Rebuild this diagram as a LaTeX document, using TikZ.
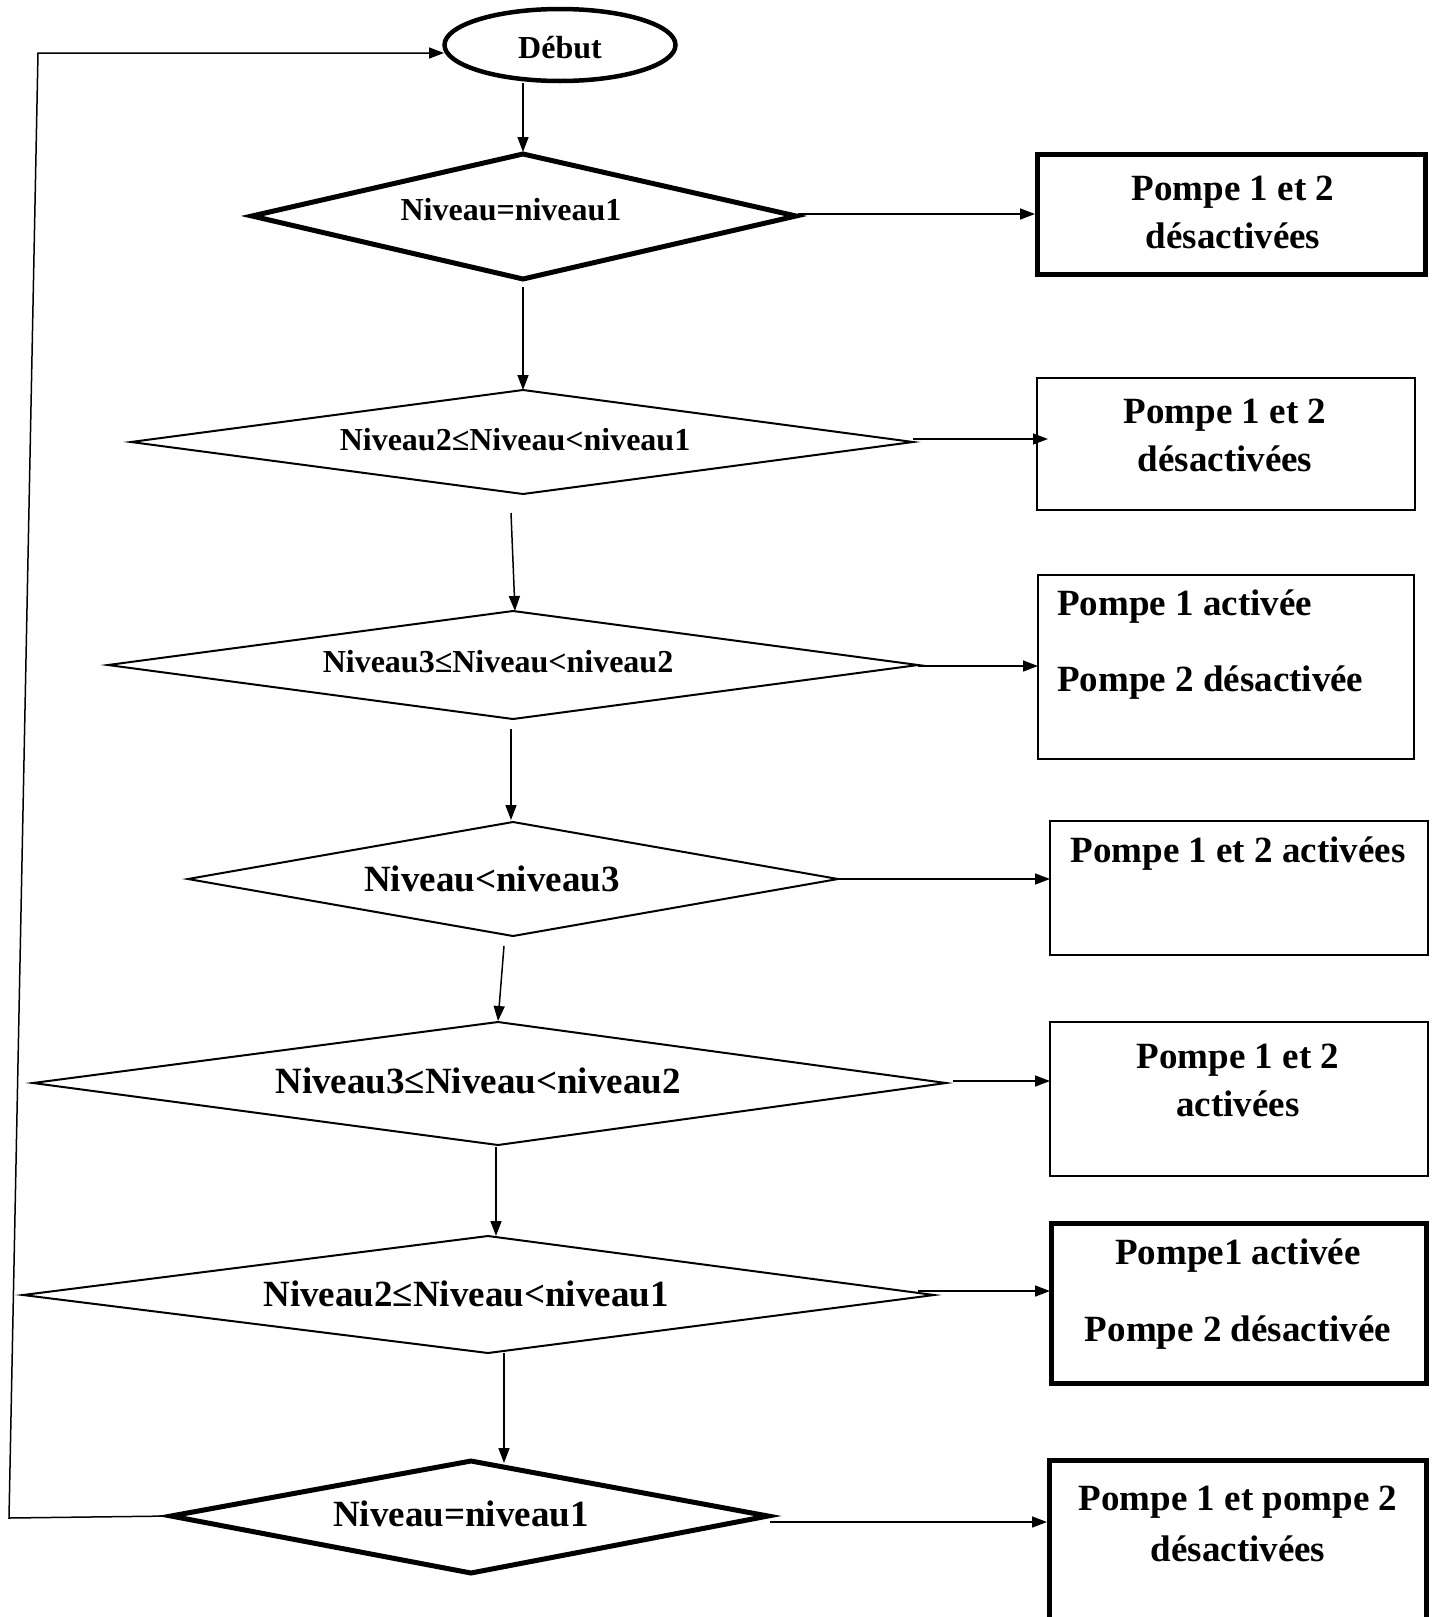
\documentclass[tikz,border=0pt]{standalone}
\usepackage{fontspec}
\setmainfont{Liberation Serif}
\usetikzlibrary{arrows.meta,shapes.geometric}
\begin{document}
\begin{tikzpicture}[x=1pt,y=-1pt,
  conn/.style={line width=1.5pt,-{Triangle[length=15pt,width=11pt]}},
  thinshape/.style={draw,line width=2pt},
  heavyshape/.style={draw,line width=5pt},
  bigtxt/.style={font=\fontsize{37}{48}\selectfont\bfseries,align=center,inner sep=0pt},
  smalltxt/.style={font=\fontsize{32}{38}\selectfont\bfseries,inner sep=0pt},
  boxnode/.style={rectangle,inner sep=0pt}
]
\useasboundingbox (0,0) rectangle (1436,1617);

% Start ellipse
\node[ellipse,heavyshape,line width=4.5pt,minimum width=231pt,minimum height=72pt] (debut) at (560,45) {};
\node[smalltxt] (debuttxt) at (560,48) {Début};

% ---------- diamond corners ----------
\coordinate (d1l) at (252,216); \coordinate (d1t) at (523,154); \coordinate (d1r) at (796,216); \coordinate (d1b) at (523,279);
\coordinate (d2l) at (131,442); \coordinate (d2t) at (523,390); \coordinate (d2r) at (913,442); \coordinate (d2b) at (523,494);
\coordinate (d3l) at (108,665); \coordinate (d3t) at (513,611); \coordinate (d3r) at (918,665); \coordinate (d3b) at (513,719);
\coordinate (d4l) at (188,879); \coordinate (d4t) at (513,822); \coordinate (d4r) at (838,879); \coordinate (d4b) at (513,936);
\coordinate (d5l) at (33,1083); \coordinate (d5t) at (498,1022); \coordinate (d5r) at (946,1083); \coordinate (d5b) at (498,1145);
\coordinate (d6l) at (23,1295); \coordinate (d6t) at (488,1236); \coordinate (d6r) at (934,1295); \coordinate (d6b) at (488,1353);
\coordinate (d7l) at (171,1516); \coordinate (d7t) at (471,1461); \coordinate (d7r) at (768,1516); \coordinate (d7b) at (471,1573);

\draw[heavyshape] (d1l) -- (d1t) -- (d1r) -- (d1b) -- cycle;
\draw[thinshape] (d2l) -- (d2t) -- (d2r) -- (d2b) -- cycle;
\draw[thinshape] (d3l) -- (d3t) -- (d3r) -- (d3b) -- cycle;
\draw[thinshape] (d4l) -- (d4t) -- (d4r) -- (d4b) -- cycle;
\draw[thinshape] (d5l) -- (d5t) -- (d5r) -- (d5b) -- cycle;
\draw[thinshape] (d6l) -- (d6t) -- (d6r) -- (d6b) -- cycle;
\draw[heavyshape] (d7l) -- (d7t) -- (d7r) -- (d7b) -- cycle;

% diamond texts
\node[smalltxt] (t1) at (511,210) {Niveau=niveau1};
\node[smalltxt] (t2) at (515,440) {Niveau2≤Niveau<niveau1};
\node[smalltxt] (t3) at (498,662) {Niveau3≤Niveau<niveau2};
\node[bigtxt] (t4) at (492,879) {Niveau<niveau3};
\node[bigtxt] (t5) at (478,1081) {Niveau3≤Niveau<niveau2};
\node[bigtxt] (t6) at (466,1294) {Niveau2≤Niveau<niveau1};
\node[bigtxt] (t7) at (461,1514) {Niveau=niveau1};

% ---------- boxes ----------
\node[boxnode,heavyshape,minimum width=388pt,minimum height=120pt] (b1) at (1231.5,214.5) {};
\node[boxnode,thinshape,minimum width=378pt,minimum height=132pt] (b2) at (1226,444) {};
\node[boxnode,thinshape,minimum width=376pt,minimum height=184pt] (b3) at (1226,667) {};
\node[boxnode,thinshape,minimum width=378pt,minimum height=134pt] (b4) at (1239,888) {};
\node[boxnode,thinshape,minimum width=378pt,minimum height=154pt] (b5) at (1239,1099) {};
\node[boxnode,heavyshape,minimum width=375pt,minimum height=160pt] (b6) at (1239,1303.5) {};
\coordinate (b7bl) at (1049,1617); \coordinate (b7tl) at (1049,1460.5);
\coordinate (b7tr) at (1426.5,1460.5); \coordinate (b7br) at (1426.5,1617);
\draw[line width=5pt] (b7bl) -- (b7tl) -- (b7tr) -- (b7br);

% box texts
\node[bigtxt] (bt1) at (1233,212) {Pompe 1 et 2\\désactivées};
\node[bigtxt] (bt2) at (1225,435) {Pompe 1 et 2\\désactivées};
\node[bigtxt,font=\fontsize{37}{76}\selectfont\bfseries,align=left,anchor=west] (bt3) at (1057,645) {Pompe 1 activée\\Pompe 2 désactivée};
\node[bigtxt] (bt4) at (1238,854) {Pompe 1 et 2 activées};
\node[bigtxt] (bt5) at (1238,1080) {Pompe 1 et 2\\activées};
\node[bigtxt,font=\fontsize{37}{77}\selectfont\bfseries] (bt6) at (1238,1294.5) {Pompe1 activée\\Pompe 2 désactivée};
\node[bigtxt,font=\fontsize{37}{51}\selectfont\bfseries] (bt7) at (1238,1523.5) {Pompe 1 et pompe 2\\désactivées};

% ---------- connector end points ----------
\coordinate (e0s) at (523,83);   \coordinate (e0e) at (523,152);
\coordinate (a1s) at (798,214);  \coordinate (a1e) at (1035,214);
\coordinate (a2s) at (913,439);  \coordinate (a2e) at (1048,439);
\coordinate (a3s) at (918,666);  \coordinate (a3e) at (1038,666);
\coordinate (a4s) at (838,879);  \coordinate (a4e) at (1050,879);
\coordinate (a5s) at (953,1081); \coordinate (a5e) at (1050,1081);
\coordinate (a6s) at (918,1291); \coordinate (a6e) at (1050,1291);
\coordinate (a7s) at (770,1522); \coordinate (a7e) at (1047,1522);

\coordinate (v1s) at (523,287);  \coordinate (v1e) at (523,390);
\coordinate (v2s) at (511,513);  \coordinate (v2e) at (515,611);
\coordinate (v3s) at (511,729);  \coordinate (v3e) at (511,820);
\coordinate (v4s) at (504,946);  \coordinate (v4e) at (498,1021);
\coordinate (v5s) at (496,1147); \coordinate (v5e) at (496,1236);
\coordinate (v6s) at (504,1353); \coordinate (v6e) at (504,1463);

\coordinate (lpb) at (9,1518); \coordinate (lpt) at (38,53); \coordinate (ein) at (444,53);

% ---------- connectors ----------
\draw[conn] (e0s) -- (e0e);
\draw[conn] (a1s) -- (a1e);
\draw[conn] (a2s) -- (a2e);
\draw[conn] (a3s) -- (a3e);
\draw[conn] (a4s) -- (a4e);
\draw[conn] (a5s) -- (a5e);
\draw[conn] (a6s) -- (a6e);
\draw[conn] (a7s) -- (a7e);
\draw[conn] (v1s) -- (v1e);
\draw[conn] (v2s) -- (v2e);
\draw[conn] (v3s) -- (v3e);
\draw[conn] (v4s) -- (v4e);
\draw[conn] (v5s) -- (v5e);
\draw[conn] (v6s) -- (v6e);
\draw[conn] (d7l) -- (lpb) -- (lpt) -- (ein);
\end{tikzpicture}
\end{document}
